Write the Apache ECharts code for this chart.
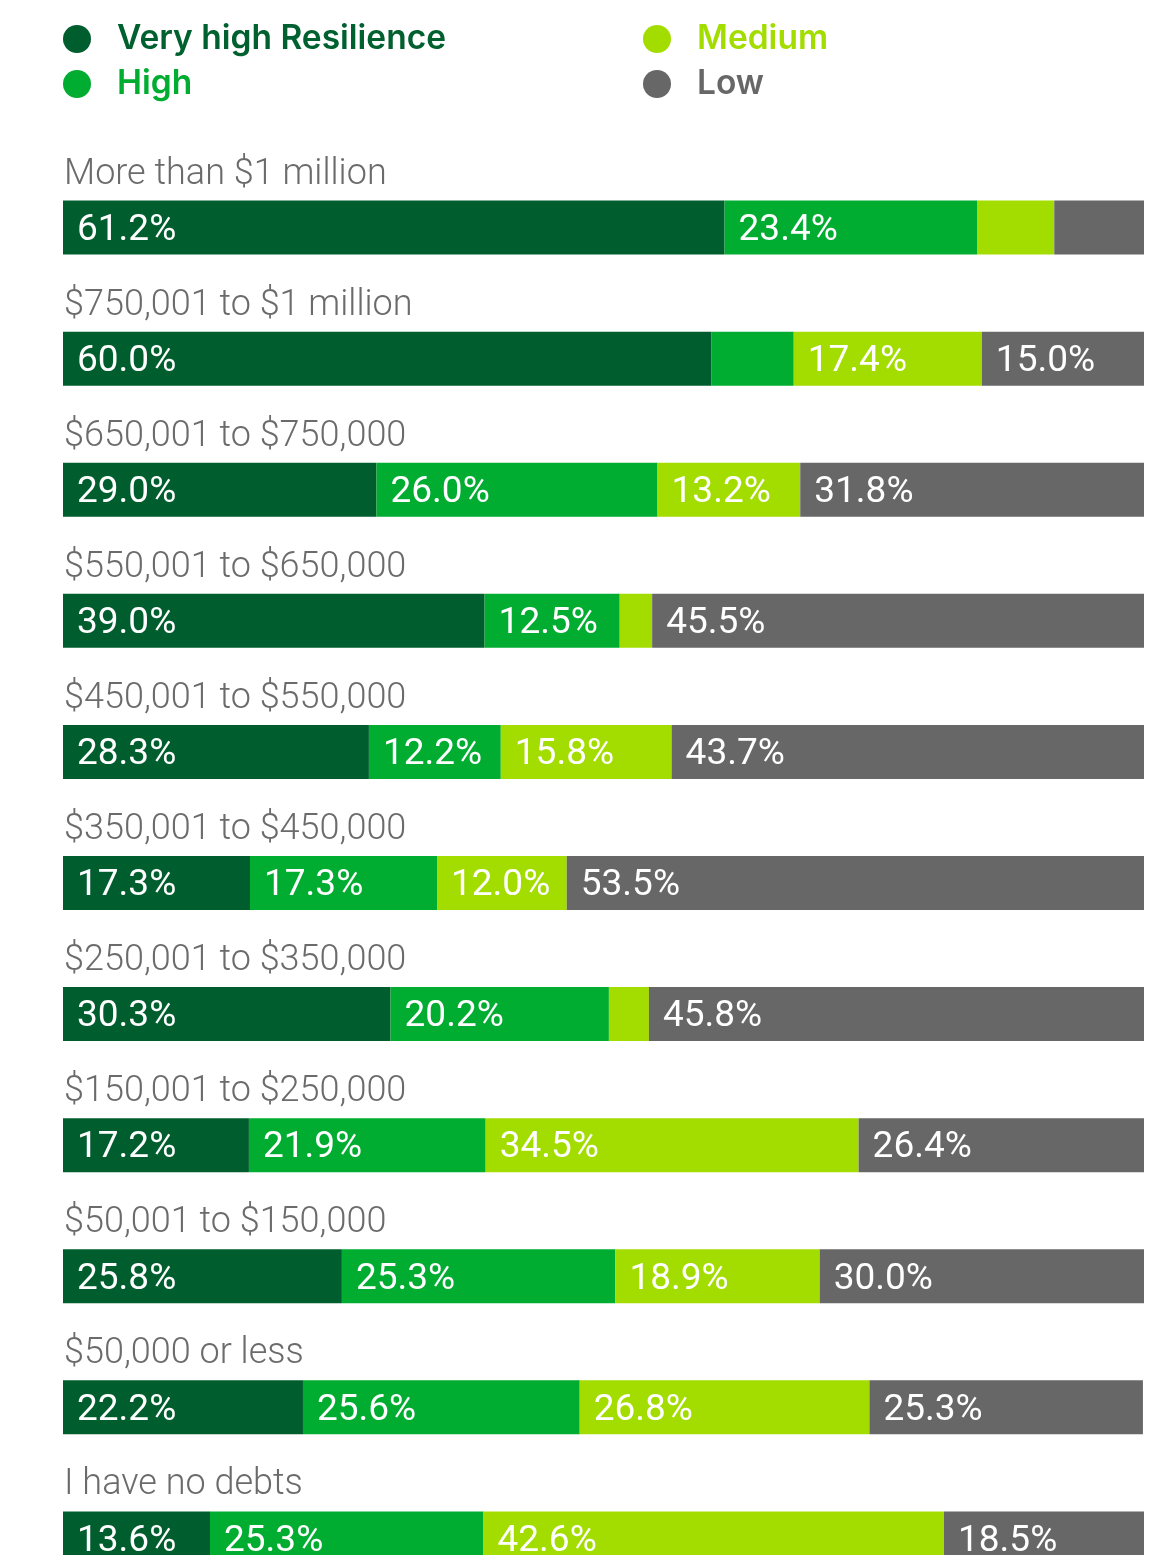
<!DOCTYPE html>
<html>
<head>
<meta charset="utf-8">
<script src="https://cdn.jsdelivr.net/npm/echarts@6/dist/echarts.min.js"></script>
<style>
html, body { margin: 0; padding: 0; background: #fff; overflow: hidden; }
#chart { width: 1158px; height: 1620px; }
</style>
</head>
<body>
<div id="chart"></div>
<script>
// categories, top to bottom
const categories = [
    'More than $1 million',
    '$750,001 to $1 million',
    '$650,001 to $750,000',
    '$550,001 to $650,000',
    '$450,001 to $550,000',
    '$350,001 to $450,000',
    '$250,001 to $350,000',
    '$150,001 to $250,000',
    '$50,001 to $150,000',
    '$50,000 or less',
    'I have no debts'
]
const veryHigh = [61.2, 60.0, 29.0, 39.0, 28.3, 17.3, 30.3, 17.2, 25.8, 22.2, 13.6]
const high = [23.4, 7.6, 26.0, 12.5, 12.2, 17.3, 20.2, 21.9, 25.3, 25.6, 25.3]
const medium = [7.1, 17.4, 13.2, 3.0, 15.8, 12.0, 3.7, 34.5, 18.9, 26.8, 42.6]
const low = [8.3, 15.0, 31.8, 45.5, 43.7, 53.5, 45.8, 26.4, 30.0, 25.3, 18.5]
// segments printed without a value label in the picture
const unlabeled = {
    veryHigh: [],
    high: [1],
    medium: [0, 3, 6],
    low: [0]
}

const colors = {
    veryHigh: '#005e2e',
    high: '#00ad31',
    medium: '#a3dd00',
    low: '#676767'
}
const names = {
    veryHigh: 'Very high Resilience',
    high: 'High',
    medium: 'Medium',
    low: 'Low'
}

function makeSeries(key, values) {
    return {
        name: names[key],
        type: 'bar',
        stack: 'total',
        barWidth: 54,
        itemStyle: { color: colors[key] },
        label: {
            show: true,
            position: 'insideLeft',
            distance: 14,
            offset: [0, 3],
            color: '#fff',
            fontFamily: 'Roboto',
            fontWeight: 400,
            fontSize: 37,
            formatter: p => p.value.toFixed(1) + '%'
        },
        data: values.map((v, i) => unlabeled[key].includes(i)
            ? { value: v, label: { show: false } }
            : v)
    }
}

function legendItem(key) {
    return {
        name: names[key],
        textStyle: { color: key === 'veryHigh' ? '#00602f' : colors[key] }
    }
}

const legendBase = {
    orient: 'vertical',
    top: 22,
    padding: 0,
    icon: 'circle',
    itemWidth: 28,
    itemHeight: 28,
    itemGap: 11,
    selectedMode: false,
    textStyle: {
        fontFamily: 'Inter',
        fontWeight: 600,
        fontSize: 33.5,
        padding: [0, 0, 0, 21]
    }
}

const myChart = echarts.init(document.getElementById('chart'))
myChart.setOption({
    animation: false,
    legend: [
        Object.assign({}, legendBase, { left: 63, data: [legendItem('veryHigh'), legendItem('high')] }),
        Object.assign({}, legendBase, { left: 643, data: [legendItem('medium'), legendItem('low')] })
    ],
    grid: {
        left: 63,
        right: 14,
        top: 162,
        height: 1442
    },
    xAxis: {
        type: 'value',
        min: 0,
        max: 100,
        show: false
    },
    yAxis: {
        type: 'category',
        inverse: true,
        data: categories,
        axisLine: { show: false },
        axisTick: { show: false },
        axisLabel: {
            inside: true,
            margin: 1,
            verticalAlign: 'bottom',
            padding: [0, 0, 35, 0],
            color: '#6b6b6b',
            fontFamily: 'Roboto',
            fontWeight: 300,
            fontSize: 36
        }
    },
    series: [
        makeSeries('veryHigh', veryHigh),
        makeSeries('high', high),
        makeSeries('medium', medium),
        makeSeries('low', low)
    ]
})
</script>
</body>
</html>
